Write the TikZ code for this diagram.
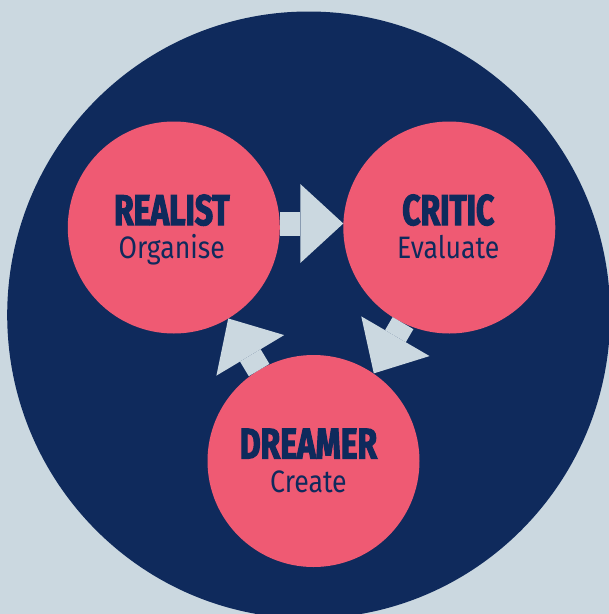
\documentclass[tikz,border=0pt]{standalone}
\usepackage{fontspec}
\usepackage{tikz}
\usetikzlibrary{arrows.meta}
\newfontfamily\rolefont[FakeStretch=0.74,FakeBold=2.5]{Fira Sans}
\newfontfamily\verbfont[FakeStretch=0.86]{Fira Sans}
\definecolor{paleblue}{RGB}{203,216,224}
\definecolor{navy}{RGB}{15,42,92}
\definecolor{rose}{RGB}{239,90,115}

\begin{document}
\begin{tikzpicture}[x=1pt, y=-1pt,
    stage/.style={circle, fill=rose, minimum size=212pt, inner sep=0pt, outer sep=0pt},
    role/.style={anchor=base, text=navy, font=\rolefont\bfseries\fontsize{43}{43}\selectfont},
    verb/.style={anchor=base, text=navy, font=\verbfont\fontsize{31}{31}\selectfont},
    flow/.style={draw=paleblue, line width=24pt, -{Triangle[width=79pt, length=43pt, line width=0pt]}}]
    % =========================
    \useasboundingbox (0,0) rectangle (609,614);
    \fill[paleblue] (0,0) rectangle (609,614);
    \fill[navy] (308.7,315) ellipse [x radius=301.5pt, y radius=303.5pt];

    % the three stages
    \foreach \name/\pos/\role/\verb/\dx in {realist/{173.8,227.5}/REALIST/Organise/-2,
                                           critic/{449.3,227.5}/CRITIC/Evaluate/-1,
                                           dreamer/{313.5,461}/DREAMER/Create/-5}
        {\node[stage] (\name) at (\pos) {};
        \node[role] (\name-r) at ([xshift=\dx pt, yshift=2.5pt]\name.center) {\role};
        \node[verb] (\name-v) at ([xshift=\dx pt, yshift=-31pt]\name.center) {\verb};}

    % ===============================
    \draw[flow] ([yshift=4pt]realist.east) -- ([yshift=4pt]critic.west);
    \draw[flow, transform canvas={shift={(7pt,-4pt)}}] (critic) -- (dreamer);
    \draw[flow] (dreamer) -- (realist);
\end{tikzpicture}
\end{document}
